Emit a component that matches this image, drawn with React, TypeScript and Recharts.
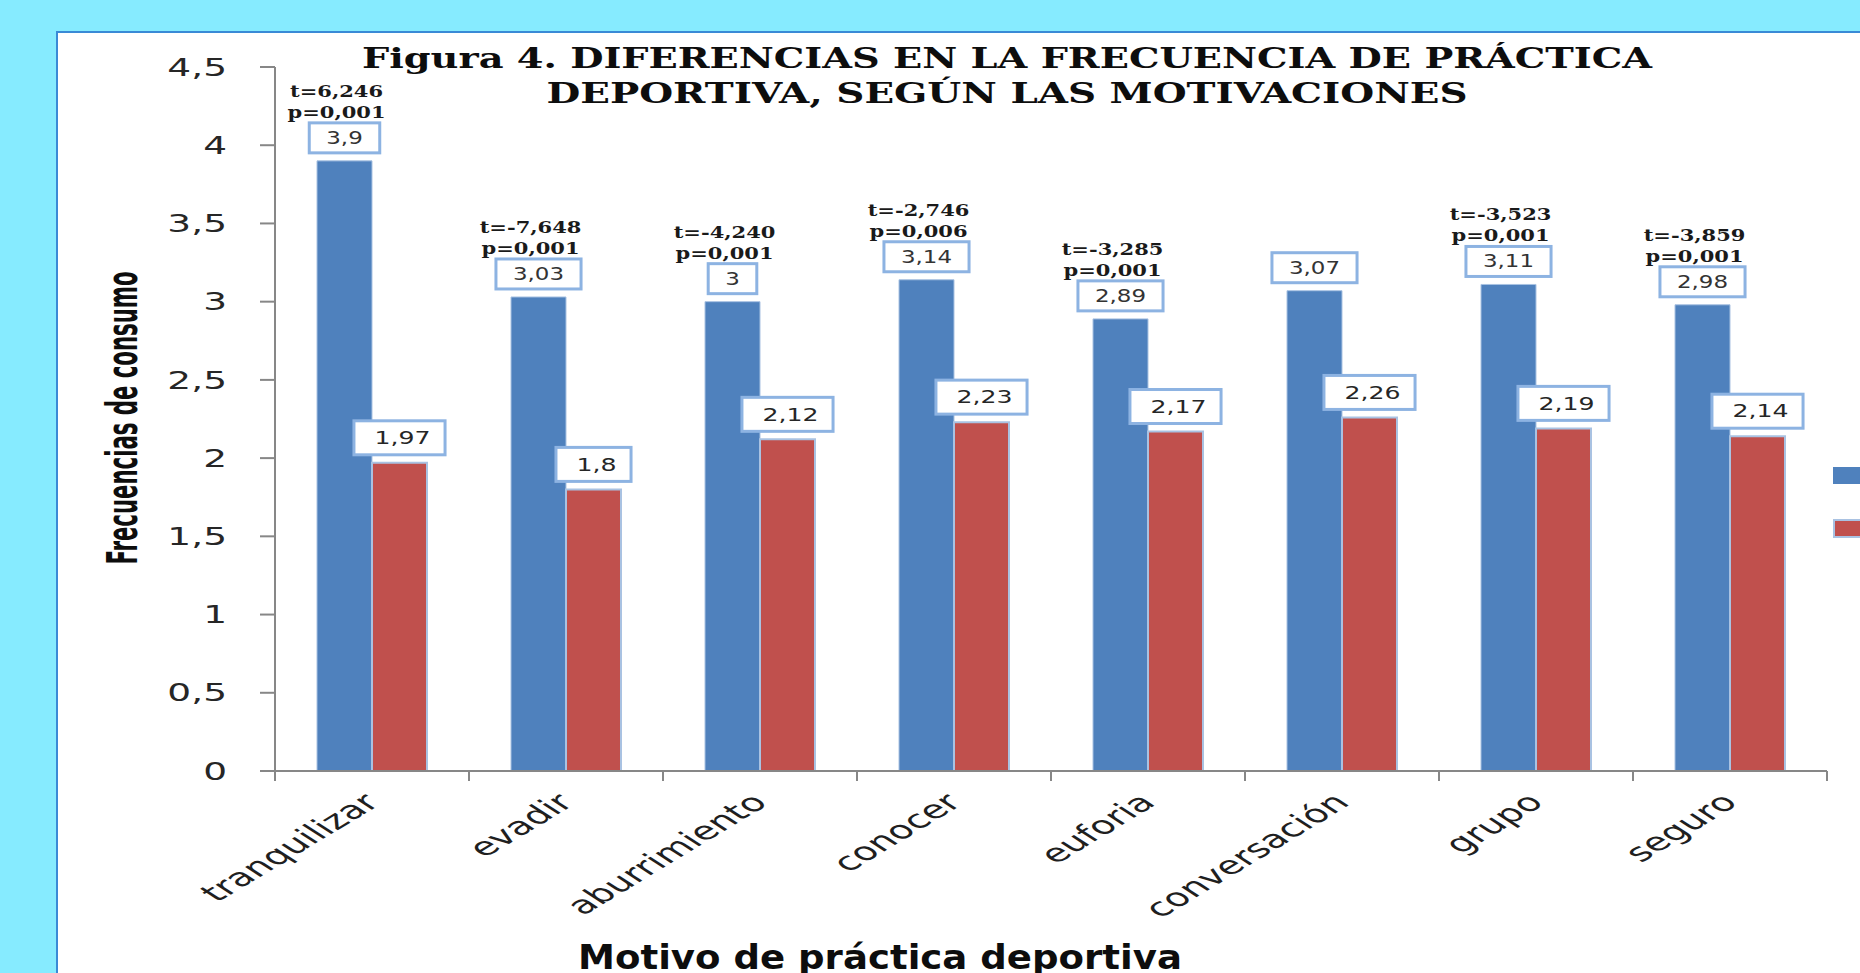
import React from 'react'
import { BarChart, Bar, XAxis, YAxis, LabelList } from 'recharts'

const motivos = [
  'tranquilizar',
  'evadir',
  'aburrimiento',
  'conocer',
  'euforia',
  'conversación',
  'grupo',
  'seguro',
]
const serieAzul = [3.9, 3.03, 3, 3.14, 2.89, 3.07, 3.11, 2.98]
const serieRoja = [1.97, 1.8, 2.12, 2.23, 2.17, 2.26, 2.19, 2.14]
const estadisticoT = ['t=6,246', 't=-7,648', 't=-4,240', 't=-2,746', 't=-3,285', '', 't=-3,523', 't=-3,859']
const valorP = ['p=0,001', 'p=0,001', 'p=0,001', 'p=0,006', 'p=0,001', '', 'p=0,001', 'p=0,001']
const yTicks = [0, 0.5, 1, 1.5, 2, 2.5, 3, 3.5, 4, 4.5]
const seriesNames = ['Sí', 'No']

const data = motivos.map((m, i) => ({ motivo: m, si: serieAzul[i], no: serieRoja[i] }))

const BLUE = '#4f81bd'
const RED = '#c0504d'
const AXIS = '#878787'
const BOX = '#8db3e2'

const fmt = (v: number) => String(v).replace('.', ',')
// rough DejaVu Sans advance widths for digits / comma
const textEm = (s: string) => [...s].reduce((a, c) => a + (c === ',' ? 0.318 : 0.636), 0)

const YTick = (props: any) => {
  const { x, y, payload } = props
  return (
    <text
      transform={`translate(${x},${y}) scale(1.5,1)`}
      textAnchor="end"
      dominantBaseline="central"
      fontSize={25}
      fontFamily="DejaVu Sans"
      fill="#262626"
    >
      {fmt(payload.value)}
    </text>
  )
}

const XTick = (props: any) => {
  const { x, y, payload, index, width } = props
  const band = (width || 1552) / motivos.length
  return (
    <g>
      <line x1={x - band / 2} x2={x - band / 2} y1={y} y2={y + 10} stroke={AXIS} strokeWidth={2} />
      {index === motivos.length - 1 && (
        <line x1={x + band / 2} x2={x + band / 2} y1={y} y2={y + 10} stroke={AXIS} strokeWidth={2} />
      )}
      <text
        transform={`translate(${x + 9},${y + 33}) scale(1.6,1) rotate(-44)`}
        textAnchor="end"
        fontSize={25}
        fontFamily="DejaVu Sans"
        fill="#1f1f1f"
      >
        {payload.value}
      </text>
    </g>
  )
}

const getBox = (props: any) => {
  const vb = props.viewBox || {}
  const x = props.x ?? vb.x
  const y = props.y ?? vb.y
  const w = props.width ?? vb.width
  return { x, y, w }
}

const BlueLabel = (props: any) => {
  const { x, y, w } = getBox(props)
  const { value, index } = props
  const cx = x + w / 2
  const txt = fmt(value)
  const fs = 17
  const sx = 1.35
  const bw = textEm(txt) * fs * sx + 34
  const bh = 30
  const top = y - 8 - bh
  const t = estadisticoT[index]
  const p = valorP[index]
  return (
    <g>
      <rect x={cx - bw / 2} y={top} width={bw} height={bh} fill="#fff" stroke={BOX} strokeWidth={3} />
      <text
        transform={`translate(${cx},${top + bh / 2}) scale(${sx},1)`}
        textAnchor="middle"
        dominantBaseline="central"
        fontSize={fs}
        fontFamily="DejaVu Sans"
        fill="#333"
      >
        {txt}
      </text>
      {t && (
        <text
          transform={`translate(${cx - 8},${y - 70}) scale(1.2,1)`}
          textAnchor="middle"
          dominantBaseline="central"
          fontSize={17.5}
          fontWeight="bold"
          fontFamily="DejaVu Serif"
          fill="#1a1a1a"
        >
          {t}
        </text>
      )}
      {p && (
        <text
          transform={`translate(${cx - 8},${y - 49}) scale(1.2,1)`}
          textAnchor="middle"
          dominantBaseline="central"
          fontSize={17.5}
          fontWeight="bold"
          fontFamily="DejaVu Serif"
          fill="#1a1a1a"
        >
          {p}
        </text>
      )}
    </g>
  )
}

const RedLabel = (props: any) => {
  const { x, y, w } = getBox(props)
  const cx = x + w / 2
  const txt = fmt(props.value)
  const fs = 18
  const sx = 1.4
  const bw = textEm(txt) * fs * sx + 35
  const bh = 34
  const top = y - 8 - bh
  return (
    <g>
      <rect x={cx - bw / 2} y={top} width={bw} height={bh} fill="#fff" stroke={BOX} strokeWidth={3} />
      <text
        transform={`translate(${cx + 3},${top + bh / 2}) scale(${sx},1)`}
        textAnchor="middle"
        dominantBaseline="central"
        fontSize={fs}
        fontFamily="DejaVu Sans"
        fill="#262626"
      >
        {txt}
      </text>
    </g>
  )
}

const App: React.FC = () => {
  return (
    <div
      style={{
        position: 'absolute',
        left: 0,
        top: 0,
        width: 1860,
        height: 973,
        overflow: 'hidden',
        background: '#86ebff',
      }}
    >
      {/* white panel, runs past the right and bottom edge */}
      <div
        style={{
          position: 'absolute',
          left: 56,
          top: 31,
          width: 1900,
          height: 1000,
          background: '#fff',
          border: '2px solid #3a8ad6',
        }}
      />
      <div style={{ position: 'absolute', left: 0, top: 0 }}>
        <BarChart
          width={2000}
          height={1000}
          data={data}
          margin={{ top: 67, right: 173, bottom: 169, left: 0 }}
          barGap={0}
          barSize={55}
        >
          <XAxis
            dataKey="motivo"
            height={60}
            axisLine={{ stroke: AXIS, strokeWidth: 2 }}
            tickLine={false}
            tickSize={0}
            tickMargin={0}
            interval={0}
            tick={<XTick />}
          />
          <YAxis
            width={275}
            domain={[0, 4.5]}
            ticks={yTicks}
            interval={0}
            axisLine={{ stroke: AXIS, strokeWidth: 2 }}
            tickLine={{ stroke: AXIS, strokeWidth: 2 }}
            tickSize={15}
            tickMargin={33}
            tick={<YTick />}
          />
          <Bar dataKey="si" name={seriesNames[0]} fill={BLUE} stroke="#a9c2e2" strokeWidth={1} isAnimationActive={false}>
            <LabelList dataKey="si" content={<BlueLabel />} />
          </Bar>
          <Bar dataKey="no" name={seriesNames[1]} fill={RED} stroke="#a9c2e2" strokeWidth={2} isAnimationActive={false}>
            <LabelList dataKey="no" content={<RedLabel />} />
          </Bar>
        </BarChart>
      </div>
      <svg width={1860} height={973} style={{ position: 'absolute', left: 0, top: 0, pointerEvents: 'none' }}>
        <text
          x={1007}
          y={68}
          textAnchor="middle"
          fontFamily="DejaVu Serif"
          fontWeight="bold"
          fontSize={27}
          textLength={1290}
          lengthAdjust="spacingAndGlyphs"
          fill="#0d0d0d"
        >
          Figura 4. DIFERENCIAS EN LA FRECUENCIA DE PRÁCTICA
        </text>
        <text
          x={1007}
          y={103}
          textAnchor="middle"
          fontFamily="DejaVu Serif"
          fontWeight="bold"
          fontSize={27}
          textLength={921}
          lengthAdjust="spacingAndGlyphs"
          fill="#0d0d0d"
        >
          DEPORTIVA, SEGÚN LAS MOTIVACIONES
        </text>
        <text
          transform="translate(137,418) scale(1.5,1) rotate(-90)"
          textAnchor="middle"
          fontFamily="DejaVu Sans Condensed"
          fontWeight="bold"
          fontSize={28}
          textLength={293}
          lengthAdjust="spacingAndGlyphs"
          fill="#0d0d0d"
        >
          Frecuencias de consumo
        </text>
        <text
          x={880}
          y={969}
          textAnchor="middle"
          fontFamily="DejaVu Sans"
          fontWeight="bold"
          fontSize={33}
          textLength={604}
          lengthAdjust="spacingAndGlyphs"
          fill="#0d0d0d"
        >
          Motivo de práctica deportiva
        </text>
        {/* legend keys; their labels lie outside the cropped picture */}
        <rect x={1833} y={467} width={30} height={17} fill={BLUE} />
        <rect x={1834} y={520} width={30} height={17} fill={RED} stroke="#a9c2e2" strokeWidth={2} />
      </svg>
    </div>
  )
}

export default App
